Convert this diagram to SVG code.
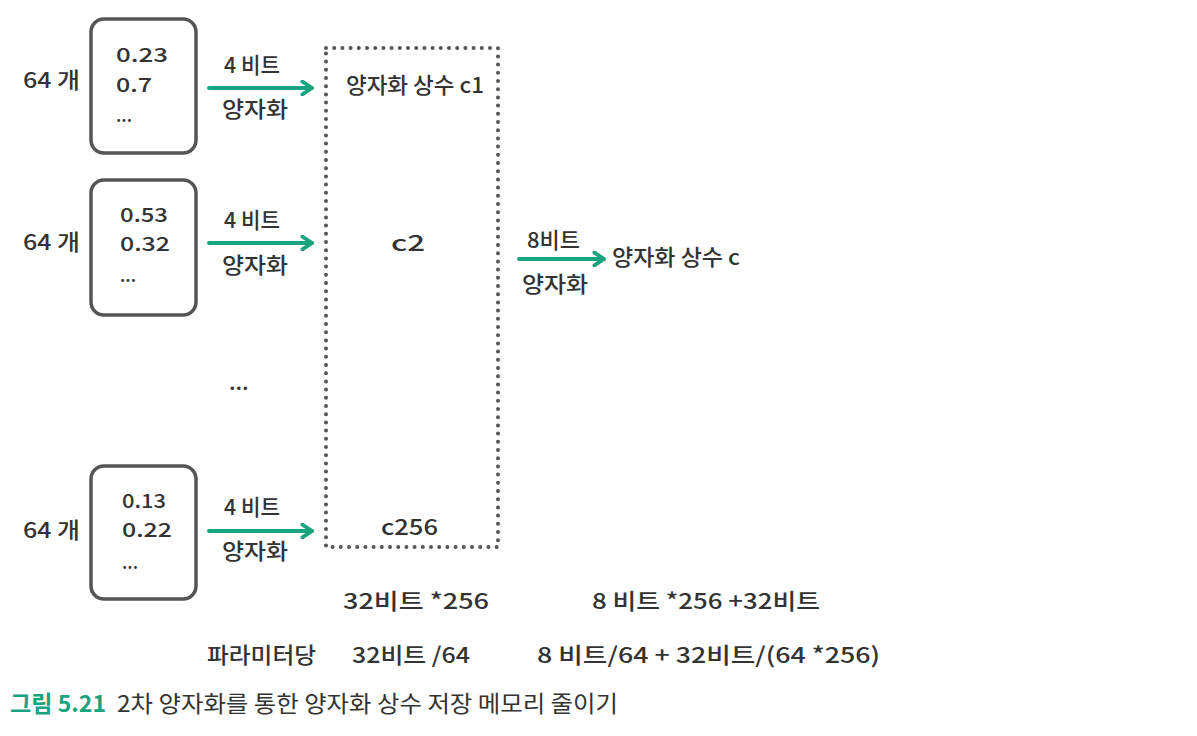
<svg xmlns="http://www.w3.org/2000/svg" width="1197" height="736" viewBox="0 0 1197 736">
<style>
.t{font-family:"Noto Sans CJK KR","Noto Sans",sans-serif;fill:#333;font-size:22px;font-weight:500}
.n{font-family:"Noto Sans CJK KR","Noto Sans",sans-serif;fill:#333;font-size:19.5px;font-weight:500}
.d{font-family:"Noto Sans CJK KR","Noto Sans",sans-serif;fill:#333;font-size:18px;font-weight:500}
.box{fill:#fff;stroke:#555;stroke-width:3.5}
.arr{stroke:#1aa37f;stroke-width:4;fill:none;stroke-linecap:round;marker-end:url(#ah)}
.cap{font-family:"Noto Sans CJK KR","Noto Sans",sans-serif;font-size:23px}
</style>
<defs>
<marker id="ah" viewBox="0 0 10 10" refX="8" refY="5" markerWidth="4" markerHeight="4" orient="auto" markerUnits="strokeWidth">
<polyline points="2,1 8,5 2,9" fill="none" stroke="#1aa37f" stroke-width="2.4" stroke-linecap="round" stroke-linejoin="round"/>
</marker>
</defs>
<rect width="1197" height="736" fill="#fff"/>
<g id="group1">
<text class="t" x="23" y="88" textLength="57" lengthAdjust="spacingAndGlyphs">64 개</text>
<rect class="box" x="91" y="19" width="105" height="134" rx="13"/>
<text class="n" x="116" y="62" textLength="52" lengthAdjust="spacingAndGlyphs">0.23</text>
<text class="n" x="116" y="92" textLength="36" lengthAdjust="spacingAndGlyphs">0.7</text>
<text class="d" x="116" y="122">...</text>
</g>
<g id="group2">
<text class="t" x="23" y="250" textLength="57" lengthAdjust="spacingAndGlyphs">64 개</text>
<rect class="box" x="91" y="180" width="105" height="135" rx="13"/>
<text class="n" x="120" y="222" textLength="48" lengthAdjust="spacingAndGlyphs">0.53</text>
<text class="n" x="120" y="251" textLength="50" lengthAdjust="spacingAndGlyphs">0.32</text>
<text class="d" x="120" y="282">...</text>
</g>
<g id="ellipsis"><text class="t" x="229" y="390">...</text></g>
<g id="group3">
<text class="t" x="23" y="538" textLength="57" lengthAdjust="spacingAndGlyphs">64 개</text>
<rect class="box" x="91" y="466" width="105" height="133" rx="13"/>
<text class="n" x="122" y="508" textLength="44" lengthAdjust="spacingAndGlyphs">0.13</text>
<text class="n" x="122" y="537" textLength="50" lengthAdjust="spacingAndGlyphs">0.22</text>
<text class="d" x="122" y="569">...</text>
</g>
<g id="constants">
<rect x="326" y="48" width="172" height="499" fill="none" stroke="#555" stroke-width="4" stroke-dasharray="0 8.2" stroke-linecap="round"/>
<text class="t" x="346" y="93" textLength="138" lengthAdjust="spacingAndGlyphs">양자화 상수 c1</text>
<text class="t" x="391" y="251" textLength="34" lengthAdjust="spacingAndGlyphs">c2</text>
<text class="t" x="381" y="535" textLength="57" lengthAdjust="spacingAndGlyphs">c256</text>
</g>
<g id="result">
<text class="t" x="612" y="265" textLength="128" lengthAdjust="spacingAndGlyphs">양자화 상수 c</text>
</g>
<g id="connectors">
<line class="arr" x1="209" y1="88" x2="312" y2="88"/>
<line class="arr" x1="209" y1="243" x2="312" y2="243"/>
<line class="arr" x1="209" y1="531" x2="312" y2="531"/>
<line class="arr" x1="519" y1="259" x2="604" y2="259"/>
<text class="t" x="224" y="73" textLength="56" lengthAdjust="spacingAndGlyphs">4 비트</text>
<text class="t" x="222" y="117" textLength="66" lengthAdjust="spacingAndGlyphs">양자화</text>
<text class="t" x="224" y="228" textLength="56" lengthAdjust="spacingAndGlyphs">4 비트</text>
<text class="t" x="222" y="273" textLength="66" lengthAdjust="spacingAndGlyphs">양자화</text>
<text class="t" x="224" y="515" textLength="56" lengthAdjust="spacingAndGlyphs">4 비트</text>
<text class="t" x="222" y="559" textLength="66" lengthAdjust="spacingAndGlyphs">양자화</text>
<text class="t" x="527" y="248" textLength="53" lengthAdjust="spacingAndGlyphs">8비트</text>
<text class="t" x="522" y="292" textLength="66" lengthAdjust="spacingAndGlyphs">양자화</text>
</g>
<g id="memory">
<text class="t" x="343" y="609" textLength="146" lengthAdjust="spacingAndGlyphs">32비트 *256</text>
<text class="t" x="592" y="609" textLength="228" lengthAdjust="spacingAndGlyphs">8 비트 *256 +32비트</text>
<text class="t" x="207" y="663" textLength="109" lengthAdjust="spacingAndGlyphs">파라미터당</text>
<text class="t" x="352" y="663" textLength="118" lengthAdjust="spacingAndGlyphs">32비트 /64</text>
<text class="t" x="537" y="663" textLength="343" lengthAdjust="spacingAndGlyphs">8 비트/64 + 32비트/(64 *256)</text>
</g>
<g id="caption">
<text class="cap" x="10" y="712" fill="#1aa37f" font-weight="700" textLength="96" lengthAdjust="spacingAndGlyphs">그림 5.21</text>
<text class="cap" x="117" y="712" fill="#333" textLength="501" lengthAdjust="spacingAndGlyphs">2차 양자화를 통한 양자화 상수 저장 메모리 줄이기</text>
</g>
</svg>
